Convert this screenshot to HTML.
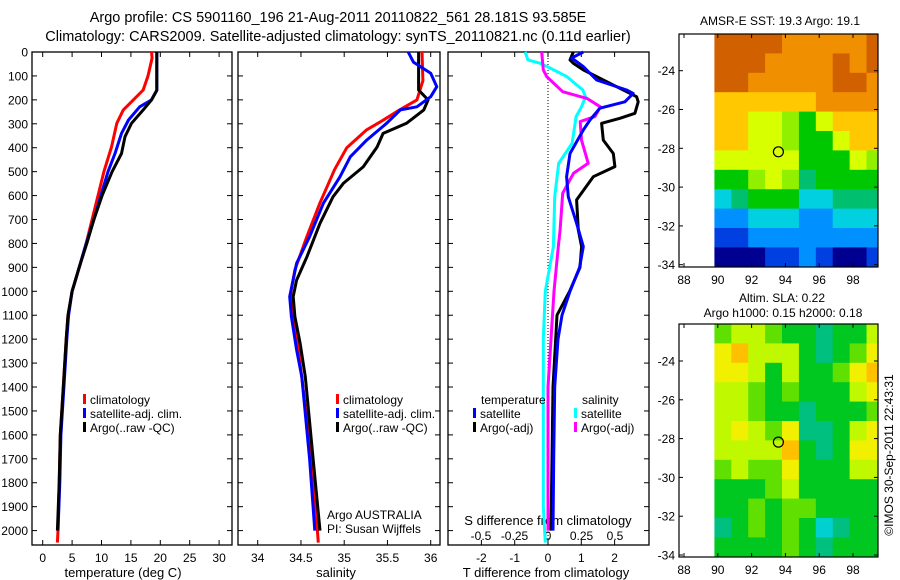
<!DOCTYPE html>
<html><head><meta charset="utf-8"><style>
html,body{margin:0;padding:0;background:#fff}
svg{display:block;font-family:"Liberation Sans",sans-serif}
</style></head><body>
<svg id="fig" xmlns="http://www.w3.org/2000/svg" width="900" height="580" viewBox="0 0 900 580">
<rect x="0" y="0" width="900" height="580" fill="#fff"/>
<text x="338" y="22" font-size="14.5" text-anchor="middle">Argo profile: CS 5901160_196 21-Aug-2011 20110822_561 28.181S 93.585E</text>
<text x="338" y="41" font-size="14.5" text-anchor="middle">Climatology: CARS2009. Satellite-adjusted climatology: synTS_20110821.nc (0.11d earlier)</text>
<g id="g"></g>
</svg>
<script>
// ---------- data ----------
const depthTicks=[0,100,200,300,400,500,600,700,800,900,1000,1100,1200,1300,1400,1500,1600,1700,1800,1900,2000];
const tempTicks=[0,5,10,15,20,25,30];
const salTicks=[34,34.5,35,35.5,36];
const tdiffTicks=[-2,-1,0,1,2];
const sdiffTicks=[-0.5,-0.25,0,0.25,0.5];
const sdiffTickLabels=["-0.5","-0.25","0","0.25","0.5"];

const tClimDepth=[0,25,100,159,200,242,298,397,500,600,700,800,900,1000,1100,1200,1400,1600,1800,2000,2050];
const tClimVal=[18.5,18.6,17.9,17.1,15.4,13.7,12.6,11.7,10.4,9.4,8.4,7.4,6.2,5.0,4.3,4.0,3.5,3.0,2.8,2.6,2.5];
const tSatDepth=[0,160,200,229,284,340,424,500,600,700,800,900,1000,1100,1200,1400,1600,1800,2000];
const tSatVal=[19.4,19.4,18.5,16.5,14.6,13.4,12.3,11.1,9.9,8.7,7.4,6.2,5.0,4.4,4.1,3.6,3.1,2.9,2.6];
const tArgoDepth=[0,160,200,242,298,354,424,500,600,700,800,900,1000,1100,1200,1400,1600,1800,2000];
const tArgoVal=[19.4,19.4,18.5,17.1,15.1,14.0,13.4,11.8,10.1,8.7,7.5,6.2,5.0,4.3,4.0,3.5,3.0,2.8,2.5];

const sClimDepth=[0,120,200,240,285,325,400,490,630,770,910,1010,1130,1360,1700,2000,2050];
const sClimVal=[35.90,35.91,35.84,35.65,35.45,35.26,35.03,34.89,34.72,34.57,34.43,34.38,34.43,34.51,34.62,34.69,34.70];
const sSatDepth=[0,42,89,145,187,229,242,298,368,438,522,632,772,883,1022,1106,1245,1357,1700,2000];
const sSatVal=[35.74,35.80,36.00,36.07,36.00,35.84,35.65,35.49,35.26,35.07,34.95,34.76,34.60,34.45,34.37,34.39,34.45,34.51,34.60,34.66];
const sArgoDepth=[0,159,200,242,298,340,397,480,549,605,716,855,953,1022,1106,1217,1357,1700,2000];
const sArgoVal=[35.86,35.86,35.97,35.92,35.72,35.45,35.38,35.22,34.99,34.87,34.72,34.57,34.45,34.41,34.43,34.49,34.55,34.64,34.72];

const dtSatDepth=[0,25,61,117,159,173,208,235,284,326,424,521,605,716,813,900,1000,1100,1200,1400,1700,2000];
const dtSatVal=[1.06,0.71,1.06,1.46,2.36,2.56,2.31,1.56,1.26,1.06,0.66,0.56,0.61,0.86,1.06,0.95,0.66,0.42,0.30,0.20,0.17,0.15];
const dtArgoDepth=[0,33,47,75,145,187,208,256,277,298,368,424,479,521,618,744,813,900,1000,1100,1400,1700,2000];
const dtArgoVal=[0.76,0.66,0.76,1.06,2.06,2.66,2.71,2.61,2.16,1.61,1.66,1.96,2.01,1.36,0.86,0.91,1.01,0.96,0.65,0.27,0.15,0.12,0.09];
const dsSatDepth=[0,33,47,67,103,159,187,229,270,382,465,605,813,1000,1200,1500,1900,2050];
const dsSatVal=[-0.17,-0.15,-0.06,0.015,0.14,0.26,0.28,0.25,0.21,0.18,0.08,0.05,0.04,-0.02,-0.035,-0.035,-0.035,-0.02];
const dsArgoDepth=[0,75,103,166,194,229,270,291,368,465,507,590,744,813,1000,1400,2000];
const dsArgoVal=[-0.047,-0.035,-0.01,0.11,0.29,0.39,0.35,0.24,0.25,0.30,0.19,0.11,0.09,0.077,0.045,0.0,0.0];

const lonTicks=[88,90,92,94,96,98];
const latTicks=[-24,-26,-28,-30,-32,-34];
const sstGrid=[
[10,10,10,10,9,9,9,9,9,10],
[10,10,10,9,9,9,9,10,9,10],
[10,10,9,9,9,9,9,10,10,9],
[8,8,8,8,8,8,9,9,9,9],
[8,8,7,7,6,5,7,8,8,8],
[8,8,7,7,6,5,5,7,8,8],
[7,7,7,7,7,5,5,5,7,6],
[5,5,6,7,6,4,5,5,5,5],
[3,4,5,5,5,3,3,4,4,4],
[2,2,3,3,3,2,2,3,3,3],
[1,1,2,2,2,2,2,2,2,2],
[0,0,0,1,1,2,1,0,0,1]];
const slaGrid=[
[3,4,4,3,2,2,1,2,2,4],
[5,6,4,4,4,2,1,2,3,5],
[5,5,4,2,4,2,2,3,5,6],
[4,4,3,2,3,2,2,2,4,5],
[4,4,3,2,2,1,2,2,2,3],
[4,5,4,3,5,1,1,2,4,5],
[4,4,4,4,6,2,1,2,5,5],
[3,4,3,3,5,2,2,2,4,4],
[2,2,2,3,4,2,2,2,2,2],
[2,2,3,2,3,3,2,2,2,2],
[1,2,3,2,3,2,0,1,2,2],
[2,2,2,2,3,2,1,2,2,2]];
const floatLon=93.585, floatLat=-28.181;

// ---------- styles ----------
const sstColors=["#000090","#0040e0","#0090ff","#00d0e0","#00c070","#00c800","#90f000","#d8ff00","#ffc800","#f09000","#d06000"];
const slaColors=["#00d0d0","#00c080","#00c820","#60e000","#c0f800","#f0f000","#ffc000"];

const NS="http://www.w3.org/2000/svg";
const G=document.getElementById("g");
function mk(tag,attrs,parent){const e=document.createElementNS(NS,tag);for(const k in attrs)e.setAttribute(k,attrs[k]);(parent||G).appendChild(e);return e;}
function txt(s,x,y,size,anchor,parent){const e=mk("text",{x:x,y:y,"font-size":size,"text-anchor":anchor||"middle"},parent);e.textContent=s;return e;}

// ---------- scales ----------
const TOP=52,BOT=545;
const yD=d=>TOP+0.2393*d;
const xT=t=>42.7+5.88*t;
const xS=s=>257.7+86.5*(s-34);
const xDT=t=>548+33.3*t;
const xDS=s=>548+134*s;
const panels=[[32,232],[238,440],[448,649]];

// panel frames & ticks
panels.forEach((p,i)=>{
  const r=mk("rect",{x:p[0],y:TOP,width:p[1]-p[0],height:BOT-TOP,fill:"none",stroke:"#000","stroke-width":1.3});
  
  
  depthTicks.forEach(d=>{
    mk("line",{x1:p[0],x2:p[0]+5,y1:yD(d),y2:yD(d),stroke:"#000"});
    mk("line",{x1:p[1],x2:p[1]-5,y1:yD(d),y2:yD(d),stroke:"#000"});
  });
});
depthTicks.forEach(d=>{
  const t=txt(String(d),28,yD(d)+4.5,12,"end");
  
  
});
function xticks(vals,fx,labels,ly){
  vals.forEach((v,i)=>{
    const x=fx(v);
    mk("line",{x1:x,x2:x,y1:TOP,y2:TOP+5,stroke:"#000"});
    mk("line",{x1:x,x2:x,y1:BOT,y2:BOT-5,stroke:"#000"});
    if(labels){const t=txt(labels[i],x,ly,12);
      
      }
  });
}
xticks(tempTicks,xT,tempTicks.map(String),562);
xticks(salTicks,xS,salTicks.map(String),562);
xticks(tdiffTicks,xDT,tdiffTicks.map(String),562);
sdiffTicks.forEach((v,i)=>{
  const t=txt(sdiffTickLabels[i],xDS(v),540,12);
  
  
});
let a=txt("temperature (deg C)",123,577,13);


a=txt("salinity",336,577,13);


a=txt("T difference from climatology",546,577,13);


a=txt("S difference from climatology",548,525,13);



// zero line in difference panel
a=mk("line",{x1:xDT(0),x2:xDT(0),y1:TOP,y2:BOT,stroke:"#000","stroke-dasharray":"1,2"});



// ---------- series ----------
function series(depths,vals,fx,color,name,x0,x1){
  const pts=depths.map((d,i)=>fx(vals[i]).toFixed(1)+","+yD(d).toFixed(1)).join(" ");
  const l=mk("polyline",{points:pts,fill:"none",stroke:color,"stroke-width":3,"stroke-linejoin":"round"});
  
  
}
series(tClimDepth,tClimVal,xT,"#ff0000","temperature-climatology-line");
series(tSatDepth,tSatVal,xT,"#0000ff","temperature-satellite-line");
series(tArgoDepth,tArgoVal,xT,"#000000","temperature-argo-line");
series(sClimDepth,sClimVal,xS,"#ff0000","salinity-climatology-line");
series(sArgoDepth,sArgoVal,xS,"#000000","salinity-argo-line");
series(sSatDepth,sSatVal,xS,"#0000ff","salinity-satellite-line");
series(dsSatDepth,dsSatVal,xDS,"#00ffff","s-diff-satellite-line");
series(dsArgoDepth,dsArgoVal,xDS,"#ff00ff","s-diff-argo-line");
series(dtArgoDepth,dtArgoVal,xDT,"#000000","t-diff-argo-line");
series(dtSatDepth,dtSatVal,xDT,"#0000ff","t-diff-satellite-line");

// ---------- legends ----------
function legend(x,y,color,label,name){
  const m=mk("rect",{x:x,y:y-10,width:3,height:10,fill:color});
  
  
  const t=txt(label,x+7,y,12,"start");
  
  
}
legend(83,404,"#ff0000","climatology","legend-climatology");
legend(83,418,"#0000ff","satellite-adj. clim.","legend-satellite");
legend(83,432,"#000000","Argo(..raw -QC)","legend-argo");
legend(336,404,"#ff0000","climatology","legend-sal-climatology");
legend(336,418,"#0000ff","satellite-adj. clim.","legend-sal-satellite");
legend(336,432,"#000000","Argo(..raw -QC)","legend-sal-argo");
a=txt("temperature",481,404,12,"start");


a=txt("salinity",582,404,12,"start");


legend(473,418,"#0000ff","satellite","legend-t-satellite");
legend(473,432,"#000000","Argo(-adj)","legend-t-argo");
legend(574,418,"#00ffff","satellite","legend-s-satellite");
legend(574,432,"#ff00ff","Argo(-adj)","legend-s-argo");
a=txt("Argo AUSTRALIA",327,519,12,"start");


a=txt("PI: Susan Wijffels",327,533,12,"start");



// ---------- maps ----------
const lonX=l=>684+16.9*(l-88);
function drawMap(top,bottom,y24,grid,colors,name,title1,title2){
  const latY=la=>y24+19.4*(-24-la);
  const cid="clip-"+name;
  const defs=mk("defs",{});
  const cp=mk("clipPath",{id:cid},defs);
  mk("rect",{x:679,y:top,width:199,height:bottom-top},cp);
  const g=mk("g",{"clip-path":"url(#"+cid+")"});
  
  
  const latTop=-24-(top-y24)/19.4;
  grid.forEach((row,r)=>row.forEach((v,c)=>{
    const x0=lonX(89.8+c), y0=latY(latTop-r);
    const cell=mk("rect",{x:x0,y:y0,width:lonX(90.8+c)-x0+0.6,height:latY(latTop-r-1)-y0+0.6,fill:colors[v]},g);
    
    
  }));
  const f=mk("rect",{x:679,y:top,width:199,height:bottom-top,fill:"none",stroke:"#000","stroke-width":1.2});
  
  
  lonTicks.forEach(l=>{
    mk("line",{x1:lonX(l),x2:lonX(l),y1:top,y2:top+4,stroke:"#000"});
    mk("line",{x1:lonX(l),x2:lonX(l),y1:bottom,y2:bottom-4,stroke:"#000"});
    const t=txt(String(l),lonX(l),bottom+17,12);
    
    
  });
  latTicks.forEach(la=>{
    mk("line",{x1:679,x2:683,y1:latY(la),y2:latY(la),stroke:"#000"});
    mk("line",{x1:878,x2:874,y1:latY(la),y2:latY(la),stroke:"#000"});
    const t=txt(String(la),675,latY(la)+4.5,12,"end");
    
    
  });
  const c=mk("ellipse",{cx:lonX(floatLon),cy:latY(floatLat),rx:5,ry:5,fill:"none",stroke:"#000","stroke-width":1.2});
  
  
}
drawMap(34,267,70.7,sstGrid,sstColors,"sst-map");
drawMap(324,557,361,slaGrid,slaColors,"sla-map");
a=txt("AMSR-E SST: 19.3 Argo: 19.1",780,25,12);


a=txt("Altim. SLA: 0.22",782,302,12);


a=txt("Argo h1000: 0.15 h2000: 0.18",783,317,12);


a=mk("text",{x:0,y:0,"font-size":12,"text-anchor":"middle",transform:"translate(893,455) rotate(-90)"});
a.textContent="©IMOS 30-Sep-2011 22:43:31";


</script>
</body></html>
